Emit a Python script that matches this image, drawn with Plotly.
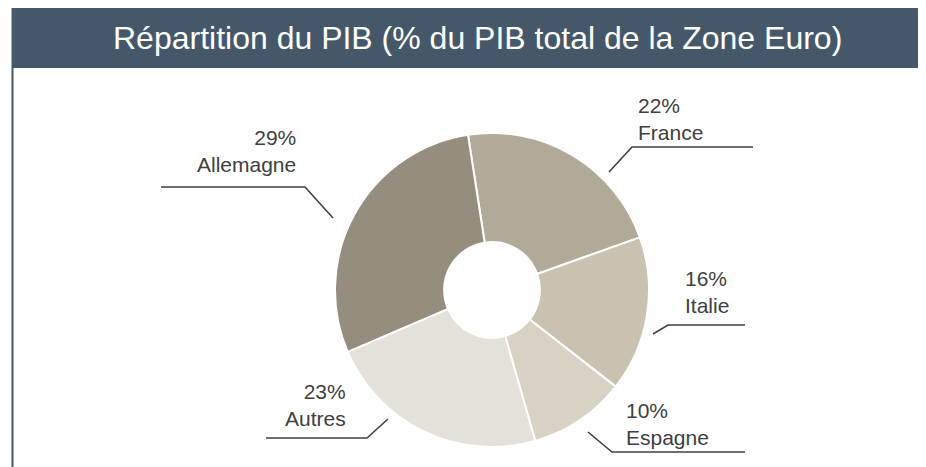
import plotly.graph_objects as go

W, H = 926, 467
OFF = 8  # page body margin compensation

# ---- data ----
categories = ["France", "Italie", "Espagne", "Autres", "Allemagne"]
shares = [22, 16, 10, 23, 29]
title_text = "Répartition du PIB (% du PIB total de la Zone Euro)"

# ---- styles / layout ----
slice_colors = ["#b1aa98", "#c9c2b0", "#d8d2c4", "#e3e1da", "#958e7f"]
HEADER_COLOR = "#45586a"
TEXT_COLOR = "#404040"
FONT = "Arial, 'Liberation Sans', sans-serif"
CX, CY, R = 492, 290, 157          # pie centre / radius in page pixels
HOLE = 0.305
ROTATION = -8.8

# label placement (page pixels): anchor side, text position and leader path
label_layout = {
    "France":    dict(anchor="left",  x=636, y=119, path=[(609, 172), (632, 147), (753, 147)]),
    "Italie":    dict(anchor="left",  x=683, y=292, path=[(653, 334), (668, 325), (745, 325)]),
    "Espagne":   dict(anchor="left",  x=624, y=424, path=[(588, 432), (612, 452), (745, 452)]),
    "Autres":    dict(anchor="right", x=348, y=405, path=[(266, 438), (367, 438), (388, 419)]),
    "Allemagne": dict(anchor="right", x=298, y=151, path=[(161, 187), (305, 187), (333, 218)]),
}

fig = go.Figure()

cx_f, cy_f = CX - OFF, CY - OFF
fig.add_trace(go.Pie(
    labels=categories,
    values=shares,
    sort=False,
    direction="clockwise",
    rotation=ROTATION,
    hole=HOLE,
    marker=dict(colors=slice_colors, line=dict(color="white", width=2)),
    textinfo="none",
    hoverinfo="skip",
    showlegend=False,
    domain=dict(x=[(cx_f - R) / W, (cx_f + R) / W],
                y=[(H - cy_f - R) / H, (H - cy_f + R) / H]),
))

for cat in categories:
    pts = label_layout[cat]["path"]
    fig.add_trace(go.Scatter(
        x=[p[0] for p in pts], y=[p[1] for p in pts],
        mode="lines", line=dict(color=TEXT_COLOR, width=1.6),
        hoverinfo="skip", showlegend=False,
    ))

annotations = []
for cat, v in zip(categories, shares):
    lay = label_layout[cat]
    annotations.append(dict(
        x=lay["x"], y=lay["y"], xref="x", yref="y",
        text=f"{v}%<br>{cat}", showarrow=False,
        xanchor=lay["anchor"], yanchor="middle", align=lay["anchor"],
        font=dict(family=FONT, size=21, color=TEXT_COLOR),
    ))

annotations.append(dict(
    x=477, y=38, xref="x", yref="y", text=title_text, showarrow=False,
    xanchor="center", yanchor="middle",
    font=dict(family=FONT, size=32, color="white"),
))

shapes = [
    dict(type="rect", xref="x", yref="y", x0=12, x1=W + OFF, y0=7, y1=68,
         fillcolor=HEADER_COLOR, line=dict(width=0), layer="below"),
    dict(type="line", xref="x", yref="y", x0=12, x1=W + OFF, y0=6, y1=6,
         line=dict(color="#b9c1c8", width=1), layer="below"),
    dict(type="line", xref="x", yref="y", x0=12.5, x1=12.5, y0=7, y1=H + OFF,
         line=dict(color=HEADER_COLOR, width=2), layer="below"),
]

fig.update_layout(
    width=W, height=H,
    margin=dict(l=0, r=0, t=0, b=0),
    paper_bgcolor="white", plot_bgcolor="rgba(0,0,0,0)",
    xaxis=dict(range=[OFF, W + OFF], visible=False, fixedrange=True, domain=[0, 1]),
    yaxis=dict(range=[H + OFF, OFF], visible=False, fixedrange=True, domain=[0, 1]),
    annotations=annotations, shapes=shapes,
    font=dict(family=FONT),
)

fig.write_html("out.html")
